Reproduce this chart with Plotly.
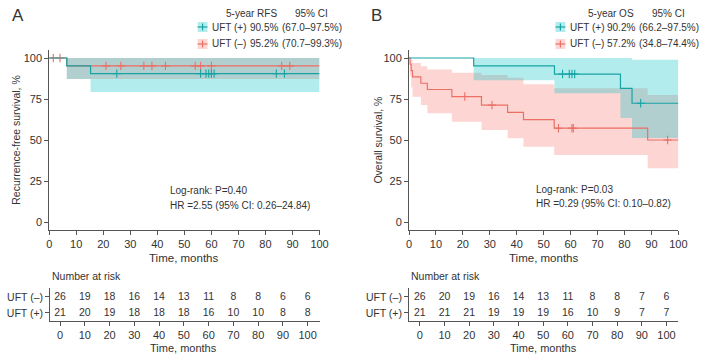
import plotly.graph_objects as go

# ---------------- data ----------------
# Panel A: recurrence-free survival (step change times, survival %, CI bounds)
A_pos_t = [0, 6.5, 15.3]
A_pos_s = [100, 95.2, 90.5]
A_pos_lo = [100, 87.2, 79.3]
A_pos_hi = [100, 100, 100]
A_pos_cens = [25, 56, 58, 59, 60, 61, 84, 87]

A_neg_t = [0, 6.5]
A_neg_s = [100, 95.2]
A_neg_lo = [100, 87.2]
A_neg_hi = [100, 100]
A_neg_cens = [1.5, 4, 21, 26.5, 35, 38, 43, 54, 56, 60, 86, 89]

# Panel B: overall survival
B_pos_t = [0, 24, 54, 78.5, 82.8]
B_pos_s = [100, 95.2, 90.2, 81.5, 72.4]
B_pos_lo = [100, 86.5, 78.5, 63.4, 51.2]
B_pos_hi = [100, 100, 100, 100, 99]
B_pos_cens = [57, 59.5, 60.5, 61.5, 86]

B_neg_t = [0, 0.4, 0.8, 1.3, 4.4, 6.8, 15.9, 26.9, 36.6, 42.5, 53.9, 88.6]
B_neg_s = [100, 96.2, 92.3, 88.5, 84.6, 80.8, 76.5, 71.3, 66.9, 62.4, 57.2, 50.0]
B_neg_lo = [100, 89, 82, 76.4, 71.3, 66.3, 61.2, 56.1, 51.0, 45.9, 40.8, 32.7]
B_neg_hi = [100, 100, 99, 97, 95, 93, 91, 89.6, 88, 84, 81.5, 77.4]
B_neg_cens = [20.7, 30.8, 55.5, 60.5, 61, 96]

# Number at risk
risk_times = [0, 10, 20, 30, 40, 50, 60, 70, 80, 90, 100]
A_risk_neg = [26, 19, 18, 16, 14, 13, 11, 8, 8, 6, 6]
A_risk_pos = [21, 20, 19, 18, 18, 18, 16, 10, 10, 8, 8]
B_risk_neg = [26, 20, 19, 16, 14, 13, 11, 8, 8, 7, 6]
B_risk_pos = [21, 21, 21, 19, 19, 19, 16, 10, 9, 7, 7]

T_END = 100

# ---------------- styles ----------------
W, H = 709, 356
TEAL = "#17A3A6"
RED = "#EC6F66"
TEAL_FILL = "rgba(0,191,196,0.30)"
RED_FILL = "rgba(248,118,109,0.30)"
AX = "#555555"
TXT = "#333333"
FONT = "Liberation Sans, Arial, sans-serif"


def fx(p):
    return p / W


def fy(p):
    return 1 - p / H


def steps(t, v, tend):
    xs, ys = [], []
    for i in range(len(t)):
        nxt = t[i + 1] if i + 1 < len(t) else tend
        xs += [t[i], nxt]
        ys += [v[i], v[i]]
    return xs, ys


def value_at(t, v, x):
    val = v[0]
    for ti, vi in zip(t, v):
        if ti <= x:
            val = vi
    return val


fig = go.Figure()


def add_band(t, lo, hi, fill_col, xa, ya):
    ux, uy = steps(t, hi, T_END)
    lx, ly = steps(t, lo, T_END)
    fig.add_trace(go.Scatter(x=ux + lx[::-1], y=uy + ly[::-1], fill="toself",
                             fillcolor=fill_col, line=dict(width=0), mode="lines",
                             hoverinfo="skip", showlegend=False, xaxis=xa, yaxis=ya))


def add_line(t, s, cens, line_col, xa, ya):
    sx, sy = steps(t, s, T_END)
    fig.add_trace(go.Scatter(x=sx, y=sy, mode="lines", line=dict(color=line_col, width=1.2),
                             showlegend=False, xaxis=xa, yaxis=ya))
    fig.add_trace(go.Scatter(x=cens, y=[value_at(t, s, c) for c in cens], mode="markers",
                             marker=dict(symbol="cross-thin", size=6, color=line_col,
                                         line=dict(color=line_col, width=1.1)),
                             showlegend=False, xaxis=xa, yaxis=ya))


# bands: red first then teal on top (overlap appears grey)
add_band(A_neg_t, A_neg_lo, A_neg_hi, RED_FILL, "x", "y")
add_band(A_pos_t, A_pos_lo, A_pos_hi, TEAL_FILL, "x", "y")
add_band(B_neg_t, B_neg_lo, B_neg_hi, RED_FILL, "x2", "y2")
add_band(B_pos_t, B_pos_lo, B_pos_hi, TEAL_FILL, "x2", "y2")

add_line(A_neg_t, A_neg_s, A_neg_cens, RED, "x", "y")
add_line(A_pos_t, A_pos_s, A_pos_cens, TEAL, "x", "y")
add_line(B_neg_t, B_neg_s, B_neg_cens, RED, "x2", "y2")
add_line(B_pos_t, B_pos_s, B_pos_cens, TEAL, "x2", "y2")

# risk tables
for xa, ya, neg, pos in [("x3", "y3", A_risk_neg, A_risk_pos), ("x4", "y4", B_risk_neg, B_risk_pos)]:
    fig.add_trace(go.Scatter(x=risk_times, y=[2] * len(risk_times), mode="text",
                             text=[str(v) for v in neg], textfont=dict(size=10.5, color=TXT),
                             showlegend=False, xaxis=xa, yaxis=ya, cliponaxis=False))
    fig.add_trace(go.Scatter(x=risk_times, y=[1] * len(risk_times), mode="text",
                             text=[str(v) for v in pos], textfont=dict(size=10.5, color=TXT),
                             showlegend=False, xaxis=xa, yaxis=ya, cliponaxis=False))

axis_common = dict(showline=True, linecolor=AX, linewidth=1, ticks="outside", ticklen=4,
                   tickcolor=AX, showgrid=False, zeroline=False,
                   tickfont=dict(size=11, color=TXT))
risk_y_common = dict(axis_common, tickfont=dict(size=10.5, color=TXT))

main_y_dom = [fy(230.2), fy(49.8)]
risk_y_dom = [fy(321), fy(288)]

fig.update_layout(
    width=W, height=H, margin=dict(l=0, r=0, t=0, b=0),
    paper_bgcolor="white", plot_bgcolor="white",
    font=dict(family=FONT, color=TXT),
    xaxis=dict(domain=[fx(47), fx(322)], range=[0, 100], anchor="y",
               tickvals=risk_times, **axis_common),
    yaxis=dict(domain=main_y_dom, range=[-5, 105], anchor="x",
               tickvals=[0, 25, 50, 75, 100], **axis_common),
    xaxis2=dict(domain=[fx(413), fx(687)], range=[0, 100], anchor="y2",
                tickvals=risk_times, **axis_common),
    yaxis2=dict(domain=main_y_dom, range=[-5, 105], anchor="x2",
                tickvals=[0, 25, 50, 75, 100], **axis_common),
    xaxis3=dict(domain=[fx(48), fx(322)], range=[-4, 104.8], anchor="y3",
                tickvals=risk_times, **axis_common),
    yaxis3=dict(domain=risk_y_dom, range=[0.5, 2.56], anchor="x3",
                tickvals=[2, 1], ticktext=["UFT (–)", "UFT (+)"], **risk_y_common),
    xaxis4=dict(domain=[fx(413), fx(687)], range=[-4.4, 104.8], anchor="y4",
                tickvals=risk_times, **axis_common),
    yaxis4=dict(domain=risk_y_dom, range=[0.5, 2.56], anchor="x4",
                tickvals=[2, 1], ticktext=["UFT (–)", "UFT (+)"], **risk_y_common),
)

ann = []


def text(x, y, s, size=10.5, xanchor="center", angle=0):
    ann.append(dict(x=fx(x), y=fy(y), xref="paper", yref="paper", text=s, showarrow=False,
                    xanchor=xanchor, yanchor="middle", textangle=angle,
                    font=dict(size=size, color=TXT, family=FONT)))


# panel letters
text(15, 15, "A", size=17)
text(380, 15, "B", size=17)

# axis titles
text(184, 258, "Time, months", size=11.5)
text(550, 258, "Time, months", size=11.5)
text(184, 348, "Time, months", size=11)
text(550, 348, "Time, months", size=11)
text(13, 140, "Recurrence-free survival, %", size=10.5, angle=-90)
text(381, 140, "Overall survival, %", size=10.5, angle=-90)

# log-rank annotations
text(168, 190, "Log-rank: P=0.40", size=10, xanchor="left")
text(168, 205, "HR =2.55 (95% CI: 0.26–24.84)", size=10, xanchor="left")
text(540, 189, "Log-rank: P=0.03", size=10, xanchor="left")
text(540, 204, "HR =0.29 (95% CI: 0.10–0.82)", size=10, xanchor="left")

# number at risk headers
text(48, 276, "Number at risk", size=10.5, xanchor="left")
text(413, 276, "Number at risk", size=10.5, xanchor="left")

# legends
legendA = [("UFT (+)", "90.5%", "(67.0–97.5%)", TEAL, TEAL_FILL),
           ("UFT (–)", "95.2%", "(70.7–99.3%)", RED, RED_FILL)]
legendB = [("UFT (+)", "90.2%", "(66.2–97.5%)", TEAL, TEAL_FILL),
           ("UFT (–)", "57.2%", "(34.8–74.4%)", RED, RED_FILL)]

shapes = []


def legend_block(x0, head1, c1, c2, rows, head_c1, head_c2):
    text(head_c1, 13, head1, size=10)
    text(head_c2, 13, "95% CI", size=10)
    for i, (lab, pct, ci, lc, fc) in enumerate(rows):
        yy = 27 + i * 17
        shapes.append(dict(type="rect", xref="paper", yref="paper", x0=fx(x0), x1=fx(x0 + 10),
                           y0=fy(yy + 5), y1=fy(yy - 5), fillcolor=fc, line=dict(width=0)))
        shapes.append(dict(type="line", xref="paper", yref="paper", x0=fx(x0), x1=fx(x0 + 10),
                           y0=fy(yy), y1=fy(yy), line=dict(color=lc, width=1.2)))
        shapes.append(dict(type="line", xref="paper", yref="paper", x0=fx(x0 + 5), x1=fx(x0 + 5),
                           y0=fy(yy + 3.5), y1=fy(yy - 3.5), line=dict(color=lc, width=1.2)))
        text(x0 + 13, yy, lab, size=10, xanchor="left")
        text(c1, yy, pct, size=10)
        text(c2, yy, ci, size=10)


legend_block(198, "5-year RFS", 265, 314, legendA, 253, 314)
legend_block(562, "5-year OS", 629, 677, legendB, 618, 677)

fig.update_layout(annotations=ann, shapes=shapes)

fig.write_html("out.html", config={"displayModeBar": False},
               post_script="document.body.style.margin='0px';")
